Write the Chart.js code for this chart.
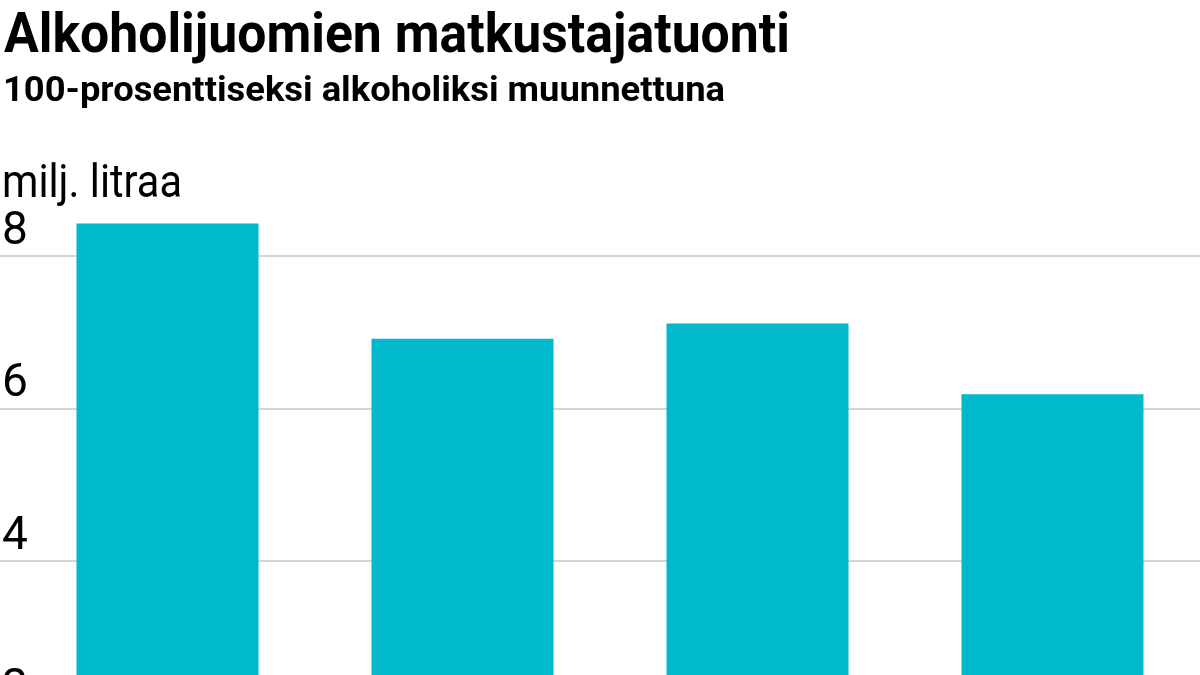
<!DOCTYPE html>
<html>
<head>
<meta charset="utf-8">
<script src="https://cdn.jsdelivr.net/npm/chart.js@4"></script>
<style>
  html, body { margin: 0; padding: 0; background: #fff; overflow: hidden; }
  body { width: 1200px; height: 675px; position: relative; font-family: Roboto, sans-serif; color: #000; }
  .txt { position: absolute; white-space: nowrap; line-height: 1; transform-origin: 0 0; }
  #title { left: 4px; top: 6px; font-size: 55px; font-weight: 700; }
  #subtitle { left: 3px; top: 72px; font-size: 35px; font-weight: 700; }
  #unit { left: 2px; top: 158px; font-size: 46px; font-weight: 400; }
  #wrap { position: absolute; left: 0; top: 0; width: 1200px; height: 876px; }
</style>
</head>
<body>
<div id="wrap"><canvas id="canvas"></canvas></div>
<div class="txt" id="title" data-w="786">Alkoholijuomien matkustajatuonti</div>
<div class="txt" id="subtitle" data-w="722">100-prosenttiseksi alkoholiksi muunnettuna</div>
<div class="txt" id="unit" data-w="180">milj. litraa</div>
<script>
// vuodet (x-akselin nimiöt jäävät kuvan alareunan alle)
var years = ["2016", "2017", "2018", "2019"];
var litres = [8.43, 6.92, 7.12, 6.19];
var yTicks = [0, 2, 4, 6, 8];

// kapea fontti puuttuu, joten venytetään tekstit oikeaan leveyteen
var texts = document.querySelectorAll(".txt");
for (var i = 0; i < texts.length; i++) {
    var el = texts[i];
    var w = el.getBoundingClientRect().width;
    el.style.transform = "scaleX(" + (parseFloat(el.dataset.w) / w) + ")";
}

var ctx = document.getElementById("canvas").getContext("2d");
window.myBar = new Chart(ctx, {
    type: "bar",
    data: {
        labels: years,
        datasets: [{
            label: "milj. litraa",
            data: litres,
            backgroundColor: "#00b9cd",
            borderWidth: 0,
            categoryPercentage: 1,
            barPercentage: 0.617,
        }],
    },
    options: {
        responsive: true,
        maintainAspectRatio: false,
        animation: false,
        layout: { padding: { top: 180, right: 0, bottom: 0, left: 0 } },
        plugins: {
            legend: { display: false },
            tooltip: { enabled: false },
            title: { display: false },
        },
        scales: {
            x: { display: false },
            y: {
                min: 0,
                max: 9,
                border: { display: false },
                grid: {
                    color: "#d4d4d4",
                    lineWidth: 2,
                    drawTicks: true,
                    // negatiivinen padding syö akselin leveyttä, siksi pitkä tickLength
                    tickLength: 56,
                },
                afterBuildTicks: function (scale) {
                    scale.ticks = yTicks.map(function (v) { return { value: v }; });
                },
                ticks: {
                    mirror: true,
                    padding: -18,
                    labelOffset: -24,
                    color: "#000",
                    font: { family: "Roboto", size: 46, weight: "400" },
                },
            },
        },
    },
});
</script>
</body>
</html>
